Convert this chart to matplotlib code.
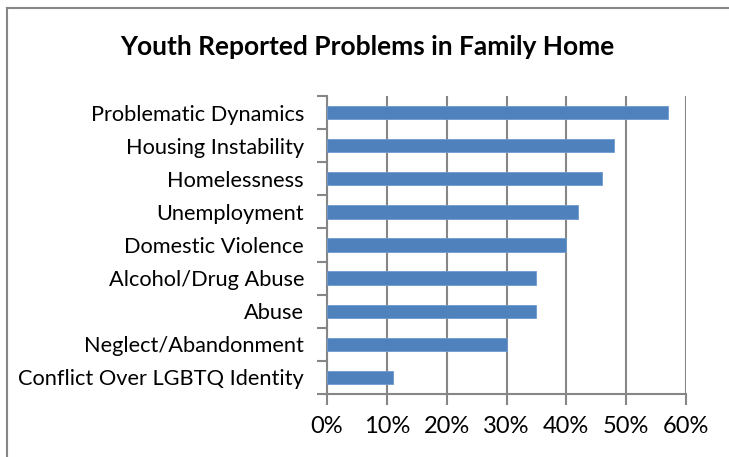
import numpy as np
import matplotlib.pyplot as plt
from matplotlib.lines import Line2D

# datos
categorias = ["Problematic Dynamics", "Housing Instability", "Homelessness",
              "Unemployment", "Domestic Violence", "Alcohol/Drug Abuse",
              "Abuse", "Neglect/Abandonment", "Conflict Over LGBTQ Identity"]
valores = [57, 48, 46, 42, 40, 35, 35, 30, 11]
xticks = [0, 10, 20, 30, 40, 50, 60]
xlabels = ["0%", "10%", "20%", "30%", "40%", "50%", "60%"]

plt.rcParams['font.family'] = ['Lato', 'DejaVu Sans']

fig = plt.figure(figsize=(7.29, 4.57), dpi=100)
W, H = 729, 457
ax = fig.add_axes([327/W, 1-394/H, (686-327)/W, (394-96)/H])

n = len(categorias)
pos = np.arange(n)[::-1]  # primero arriba
ax.barh(pos, valores, height=0.4, color='#4f81bd', edgecolor='#6f9bd0', linewidth=0.6, zorder=3)

ax.set_xlim(0, 60)
ax.set_ylim(-0.5, n-0.5)
ax.set_xticks(xticks)
ax.set_xticklabels(xlabels, fontsize=17)
ax.set_yticks(pos)
ax.set_yticklabels(categorias, fontsize=15.7)
ax.tick_params(axis='y', length=0, pad=16.5)
ax.tick_params(axis='x', length=8, width=1.5, color='#868686', pad=8)

# marcas entre categorias (eje y)
ax.set_yticks(np.arange(-0.5, n, 1), minor=True)
ax.tick_params(axis='y', which='minor', length=7, width=1.5, color='#868686')

ax.grid(axis='x', color='#868686', linewidth=1.5, zorder=0)
for s in ['top', 'right']:
    ax.spines[s].set_visible(False)
ax.spines['left'].set_color('#868686')
ax.spines['left'].set_linewidth(1.5)
ax.spines['bottom'].set_color('#868686')
ax.spines['bottom'].set_linewidth(1.5)

fig.text(367/W, 1-47/H, 'Youth Reported Problems in Family Home', ha='center', va='center',
         fontsize=19, fontweight='bold')

# borde del grafico
fig.add_artist(Line2D([7/W, 7/W], [0, 1-8/H], color='#868686', linewidth=1.5))
fig.add_artist(Line2D([7/W, 1], [1-8/H, 1-8/H], color='#868686', linewidth=1.5))

fig.savefig('out.png', dpi=100)
